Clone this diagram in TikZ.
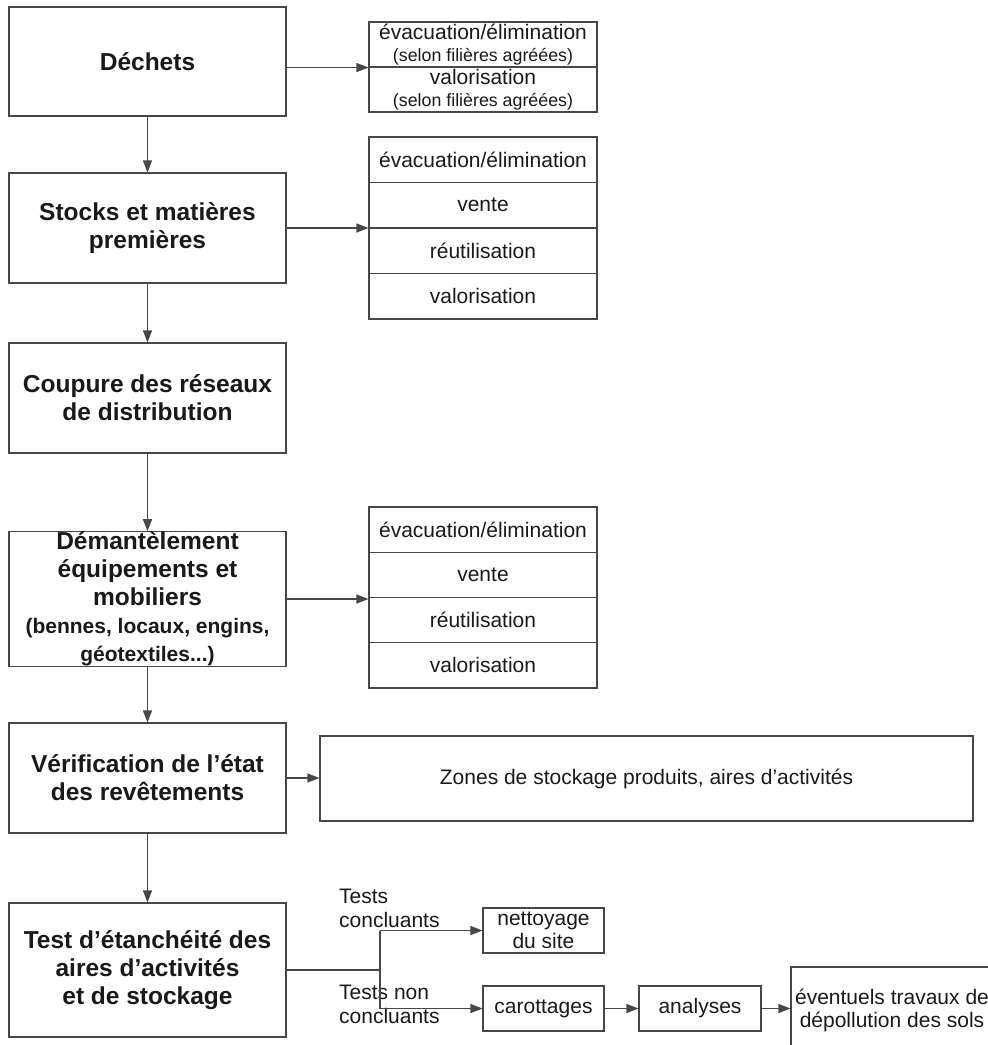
\documentclass[tikz,border=0pt]{standalone}
\usepackage{fontspec}
\setmainfont{Liberation Sans}
\usetikzlibrary{arrows.meta}
\begin{document}
\begin{tikzpicture}[x=1pt,y=-1pt,
  line/.style={draw=black!72, line width=1.1pt},
  arr/.style={line, -{Triangle[length=12pt,width=9pt]}},
  mainbox/.style={line, minimum width=277pt, inner sep=0pt, align=center,
    font=\bfseries\fontsize{24.5}{28}\selectfont, text=black!90},
  rowbox/.style={line, minimum width=228pt, inner sep=0pt, align=center,
    font=\fontsize{21}{22}\selectfont, text=black!90},
  sbox/.style={line, inner sep=0pt, align=center,
    font=\fontsize{21}{23}\selectfont, text=black!90},
  lbl/.style={inner sep=0pt, align=left, anchor=west,
    font=\fontsize{21}{24}\selectfont, text=black!90}
]
\useasboundingbox (0,0) rectangle (988,1045);
\clip (0,0) rectangle (988,1045);

% main column
\node[mainbox, minimum height=109pt] (dech) at (147.5,61.5) {Déchets};
\node[mainbox, minimum height=110pt] (stock) at (147.5,228) {Stocks et matières\\premières};
\node[mainbox, minimum height=110pt] (coup) at (147.5,398) {Coupure des réseaux\\de distribution};
\node[mainbox, minimum height=134pt] (dem) at (147.5,599) {Démantèlement\\équipements et\\mobiliers\\{\fontsize{21}{28}\selectfont (bennes, locaux, engins,}\\{\fontsize{21}{28}\selectfont géotextiles...)}};
\node[mainbox, minimum height=110pt] (verif) at (147.5,778) {Vérification de l’état\\des revêtements};
\node[mainbox, minimum height=134pt] (test) at (147.5,970) {Test d’étanchéité des\\aires d’activités\\et de stockage};

% right box 1
\node[rowbox, minimum height=45pt] (r1a) at (483,44.5) {évacuation/élimination\\{\fontsize{17.8}{22}\selectfont (selon filières agréées)}};
\node[rowbox, minimum height=45pt] (r1b) at (483,89.5) {valorisation\\{\fontsize{17.8}{22}\selectfont (selon filières agréées)}};

% right box 2
\node[rowbox, minimum height=45.5pt] (r2a) at (483,159.75) {évacuation/élimination};
\node[rowbox, minimum height=45.5pt] (r2b) at (483,205.25) {vente};
\node[rowbox, minimum height=45.5pt] (r2c) at (483,250.75) {réutilisation};
\node[rowbox, minimum height=45.5pt] (r2d) at (483,296.25) {valorisation};

% right box 3
\node[rowbox, minimum height=45.25pt] (r3a) at (483,529.6) {évacuation/élimination};
\node[rowbox, minimum height=45.25pt] (r3b) at (483,574.9) {vente};
\node[rowbox, minimum height=45.25pt] (r3c) at (483,620.1) {réutilisation};
\node[rowbox, minimum height=45.25pt] (r3d) at (483,665.4) {valorisation};

% zones
\node[sbox, minimum width=653pt, minimum height=85pt] (zones) at (646.5,778.5) {Zones de stockage produits, aires d’activités};

% bottom branch
\node[sbox, minimum width=121pt, minimum height=45pt] (net) at (543.5,930.5) {nettoyage\\du site};
\node[sbox, minimum width=121pt, minimum height=45pt] (car) at (543.5,1008.5) {carottages};
\node[sbox, minimum width=122pt, minimum height=45pt] (ana) at (700,1008.5) {analyses};
\node[sbox, minimum width=202pt, minimum height=86pt] (ev) at (892,1010) {éventuels travaux de\\dépollution des sols};

\node[lbl] (tc) at (339,908) {Tests\\concluants};
\node[lbl] (tnc) at (339,1004.5) {Tests non\\concluants};

% connectors
\draw[arr] (dech) -- (stock);
\draw[arr] (stock) -- (coup);
\draw[arr] (coup) -- (dem);
\draw[arr] (dem) -- (verif);
\draw[arr] (verif) -- (test);

\draw[arr] (dech.east |- r1a.south west) -- (r1a.south west);
\draw[arr] (stock.east) -- (stock.east -| r2b.west);
\draw[arr] (dem.east) -- (dem.east -| r3b.west);
\draw[arr] (verif.east) -- (verif.east -| zones.west);

\coordinate (br) at (380,970);
\draw[line] (test.east |- br) -- (br);
\draw[line] (br |- net.west) -- (br |- car.west);
\draw[arr] (br |- net.west) -- (net.west);
\draw[arr] (br |- car.west) -- (car.west);
\draw[arr] (car.east) -- (ana.west);
\draw[arr] (ana.east) -- (ana.east -| ev.west);
\end{tikzpicture}
\end{document}
